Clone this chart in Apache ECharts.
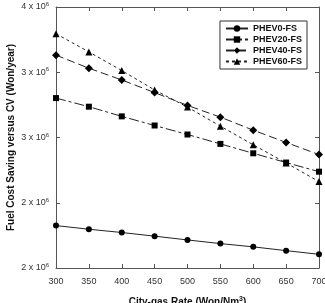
<!DOCTYPE html>
<html><head><meta charset="utf-8">
<script src="https://cdn.jsdelivr.net/npm/echarts@6/dist/echarts.min.js"></script>
<style>html,body{margin:0;padding:0;background:#fff}#c{width:325px;height:303px}</style>
</head><body><div id="c"></div>
<script>
const categories = [300, 350, 400, 450, 500, 550, 600, 650, 700];
const phev0 = [2.325, 2.297, 2.272, 2.244, 2.215, 2.187, 2.162, 2.133, 2.105].map(v => v * 1e6);
const phev20 = [3.302, 3.236, 3.162, 3.092, 3.023, 2.951, 2.879, 2.808, 2.738].map(v => v * 1e6);
const phev40 = [3.631, 3.531, 3.441, 3.344, 3.246, 3.156, 3.056, 2.962, 2.869].map(v => v * 1e6);
const phev60 = [3.795, 3.656, 3.513, 3.364, 3.233, 3.087, 2.944, 2.805, 2.662].map(v => v * 1e6);
const yTicks = [2e6, 2.5e6, 3e6, 3.5e6, 4e6];
const yTickLabels = ['2', '2', '3', '3', '4'];

const font = 'Liberation Sans, Arial, sans-serif';
const axisColor = '#555';
function mk(name, data, symbol, size, dash) {
  return {
    name, type: 'line', data: categories.map((c, i) => [c, data[i]]),
    symbol, symbolSize: size, showSymbol: true,
    itemStyle: { color: '#000' },
    lineStyle: { color: '#222', width: 1, type: dash },
    animation: false
  };
}
const chart = echarts.init(document.getElementById('c'));
chart.setOption({
  animation: false,
  grid: { left: 56, right: 6, top: 7, bottom: 35, containLabel: false, outerBoundsMode: 'none' },
  legend: {
    right: 18, top: 21, orient: 'vertical', itemGap: 2, itemWidth: 22, itemHeight: 8,
    borderColor: '#333', borderWidth: 1, padding: [3, 5, 3, 5], backgroundColor: '#fff',
    textStyle: { fontFamily: font, fontSize: 9, fontWeight: 'bold', color: '#111' },
    data: ['PHEV0-FS', 'PHEV20-FS', 'PHEV40-FS', 'PHEV60-FS']
  },
  xAxis: [{
    type: 'value', min: 300, max: 700, interval: 50,
    name: 'City-gas Rate (Won/Nm{s|3})', nameLocation: 'middle', nameGap: 28, nameMoveOverlap: false,
    nameTextStyle: { fontFamily: font, fontSize: 10, fontWeight: 'bold', color: '#111',
      rich: { s: { fontSize: 7, fontWeight: 'bold', verticalAlign: 'top', padding: [0, 0, 6, 0] } } },
    axisLine: { lineStyle: { color: axisColor, width: 1 } },
    axisTick: { inside: true, length: 4, lineStyle: { color: axisColor } },
    axisLabel: { fontFamily: font, fontSize: 9, color: '#333', margin: 9 },
    splitLine: { show: false }
  }, {
    type: 'value', position: 'top', min: 300, max: 700, interval: 50,
    axisLine: { show: true, lineStyle: { color: axisColor, width: 1 } },
    axisTick: { show: true, inside: true, length: 4, lineStyle: { color: axisColor } },
    axisLabel: { show: false }, splitLine: { show: false }
  }],
  yAxis: [{
    type: 'value', min: 2e6, max: 4e6, interval: 5e5,
    name: 'Fuel Cost Saving versus CV (Won/year)', nameLocation: 'middle', nameGap: 40, nameRotate: 90, nameMoveOverlap: false,
    nameTextStyle: { fontFamily: font, fontSize: 10, fontWeight: 'bold', color: '#111' },
    axisLine: { show: true, lineStyle: { color: axisColor, width: 1 } },
    axisTick: { show: true, inside: true, length: 4, lineStyle: { color: axisColor } },
    axisLabel: {
      fontFamily: font, fontSize: 9, color: '#333', margin: 7,
      formatter: v => { const i = yTicks.indexOf(v); return (i >= 0 ? yTickLabels[i] : '') + ' x 10{s|6}'; },
      rich: { s: { fontSize: 6, verticalAlign: 'top', padding: [0, 0, 5, 0], color: '#333' } }
    },
    splitLine: { show: false }
  }, {
    type: 'value', position: 'right', min: 2e6, max: 4e6, interval: 5e5,
    axisLine: { show: true, lineStyle: { color: axisColor, width: 1 } },
    axisTick: { show: true, inside: true, length: 4, lineStyle: { color: axisColor } },
    axisLabel: { show: false }, splitLine: { show: false }
  }],
  series: [
    mk('PHEV0-FS', phev0, 'circle', 6, 'solid'),
    mk('PHEV20-FS', phev20, 'rect', 6, [10, 3, 3, 3]),
    mk('PHEV40-FS', phev40, 'diamond', 8, [8, 4]),
    mk('PHEV60-FS', phev60, 'triangle', 7, [3, 3])
  ]
});
</script></body></html>
